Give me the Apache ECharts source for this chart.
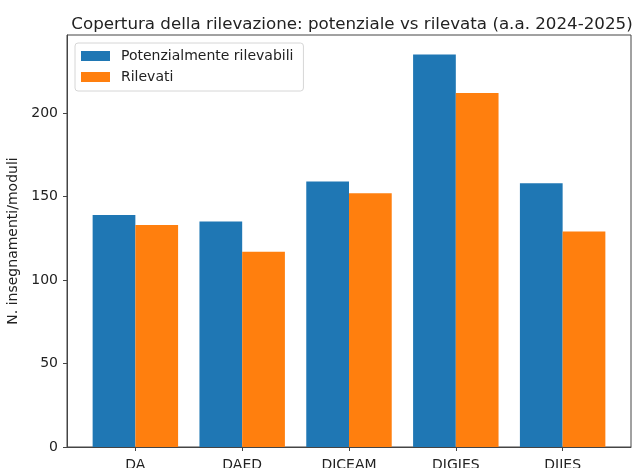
<!DOCTYPE html>
<html>
<head>
<meta charset="utf-8">
<script src="https://cdn.jsdelivr.net/npm/echarts@6/dist/echarts.min.js"></script>
<style>
  html, body { margin: 0; padding: 0; background: #fff; }
  #chart { width: 633px; height: 468px; }
</style>
</head>
<body>
<div id="chart"></div>
<script>
// dati
const categorie = ['DA', 'DAED', 'DICEAM', 'DIGIES', 'DIIES'];
const potenziali = [139, 135, 159, 235, 158];
const rilevati = [133, 117, 152, 212, 129];
const yTicks = [0, 50, 100, 150, 200];

const myChart = echarts.init(document.getElementById('chart'));

// posizioni come in matplotlib: x = indice, barre larghe 0.4
const xMin = -0.64, xMax = 4.64;
const plotW = 633 - 67 - 2;
const barW = 0.4 * plotW / (xMax - xMin);

const font = 'DejaVu Sans';
const idx = categorie.map((c, i) => i);

let option = {
  animation: false,
  textStyle: { fontFamily: font },
  title: {
    text: 'Copertura della rilevazione: potenziale vs rilevata (a.a. 2024-2025)',
    left: 347,
    top: 11,
    textAlign: 'center',
    textStyle: { fontFamily: font, fontSize: 16.7, fontWeight: 'normal', color: '#222' }
  },
  legend: {
    orient: 'vertical',
    left: 75,
    top: 43,
    itemWidth: 29,
    itemHeight: 10,
    itemGap: 7,
    padding: [6, 10, 7, 6],
    backgroundColor: '#fff',
    borderColor: '#d6d6d6',
    borderWidth: 1,
    borderRadius: 3,
    icon: 'rect',
    textStyle: { fontFamily: font, fontSize: 14, color: '#222', padding: [0, 0, 0, 6] },
    data: ['Potenzialmente rilevabili', 'Rilevati']
  },
  grid: {
    left: 67,
    right: 2,
    top: 35,
    bottom: 21,
    outerBoundsMode: 'none',
    show: true,
    borderColor: '#444',
    borderWidth: 1
  },
  xAxis: {
    type: 'value',
    min: xMin,
    max: xMax,
    splitLine: { show: false },
    axisLine: { show: true, onZero: false, lineStyle: { color: '#444' } },
    axisTick: { show: true, length: 4, customValues: idx, lineStyle: { color: '#444' } },
    axisLabel: {
      customValues: idx,
      formatter: (v) => categorie[Math.round(v)],
      margin: 11,
      fontFamily: font,
      fontSize: 14,
      color: '#222'
    }
  },
  yAxis: {
    type: 'value',
    min: 0,
    max: 235 * 1.05,
    name: 'N. insegnamenti/moduli',
    nameLocation: 'middle',
    nameGap: 40,
    nameTextStyle: { fontFamily: font, fontSize: 14, color: '#222' },
    splitLine: { show: false },
    axisLine: { show: true, onZero: false, lineStyle: { color: '#444' } },
    axisTick: { show: true, length: 4, customValues: yTicks, lineStyle: { color: '#444' } },
    axisLabel: {
      customValues: yTicks,
      margin: 9,
      fontFamily: font,
      fontSize: 14,
      color: '#222'
    }
  },
  series: [
    {
      name: 'Potenzialmente rilevabili',
      type: 'bar',
      barWidth: barW,
      barGap: '0%',
      itemStyle: { color: '#1f77b4' },
      data: potenziali.map((v, i) => [i, v])
    },
    {
      name: 'Rilevati',
      type: 'bar',
      barWidth: barW,
      barGap: '0%',
      itemStyle: { color: '#ff7f0e' },
      data: rilevati.map((v, i) => [i, v])
    }
  ]
};

myChart.setOption(option);
</script>
</body>
</html>
